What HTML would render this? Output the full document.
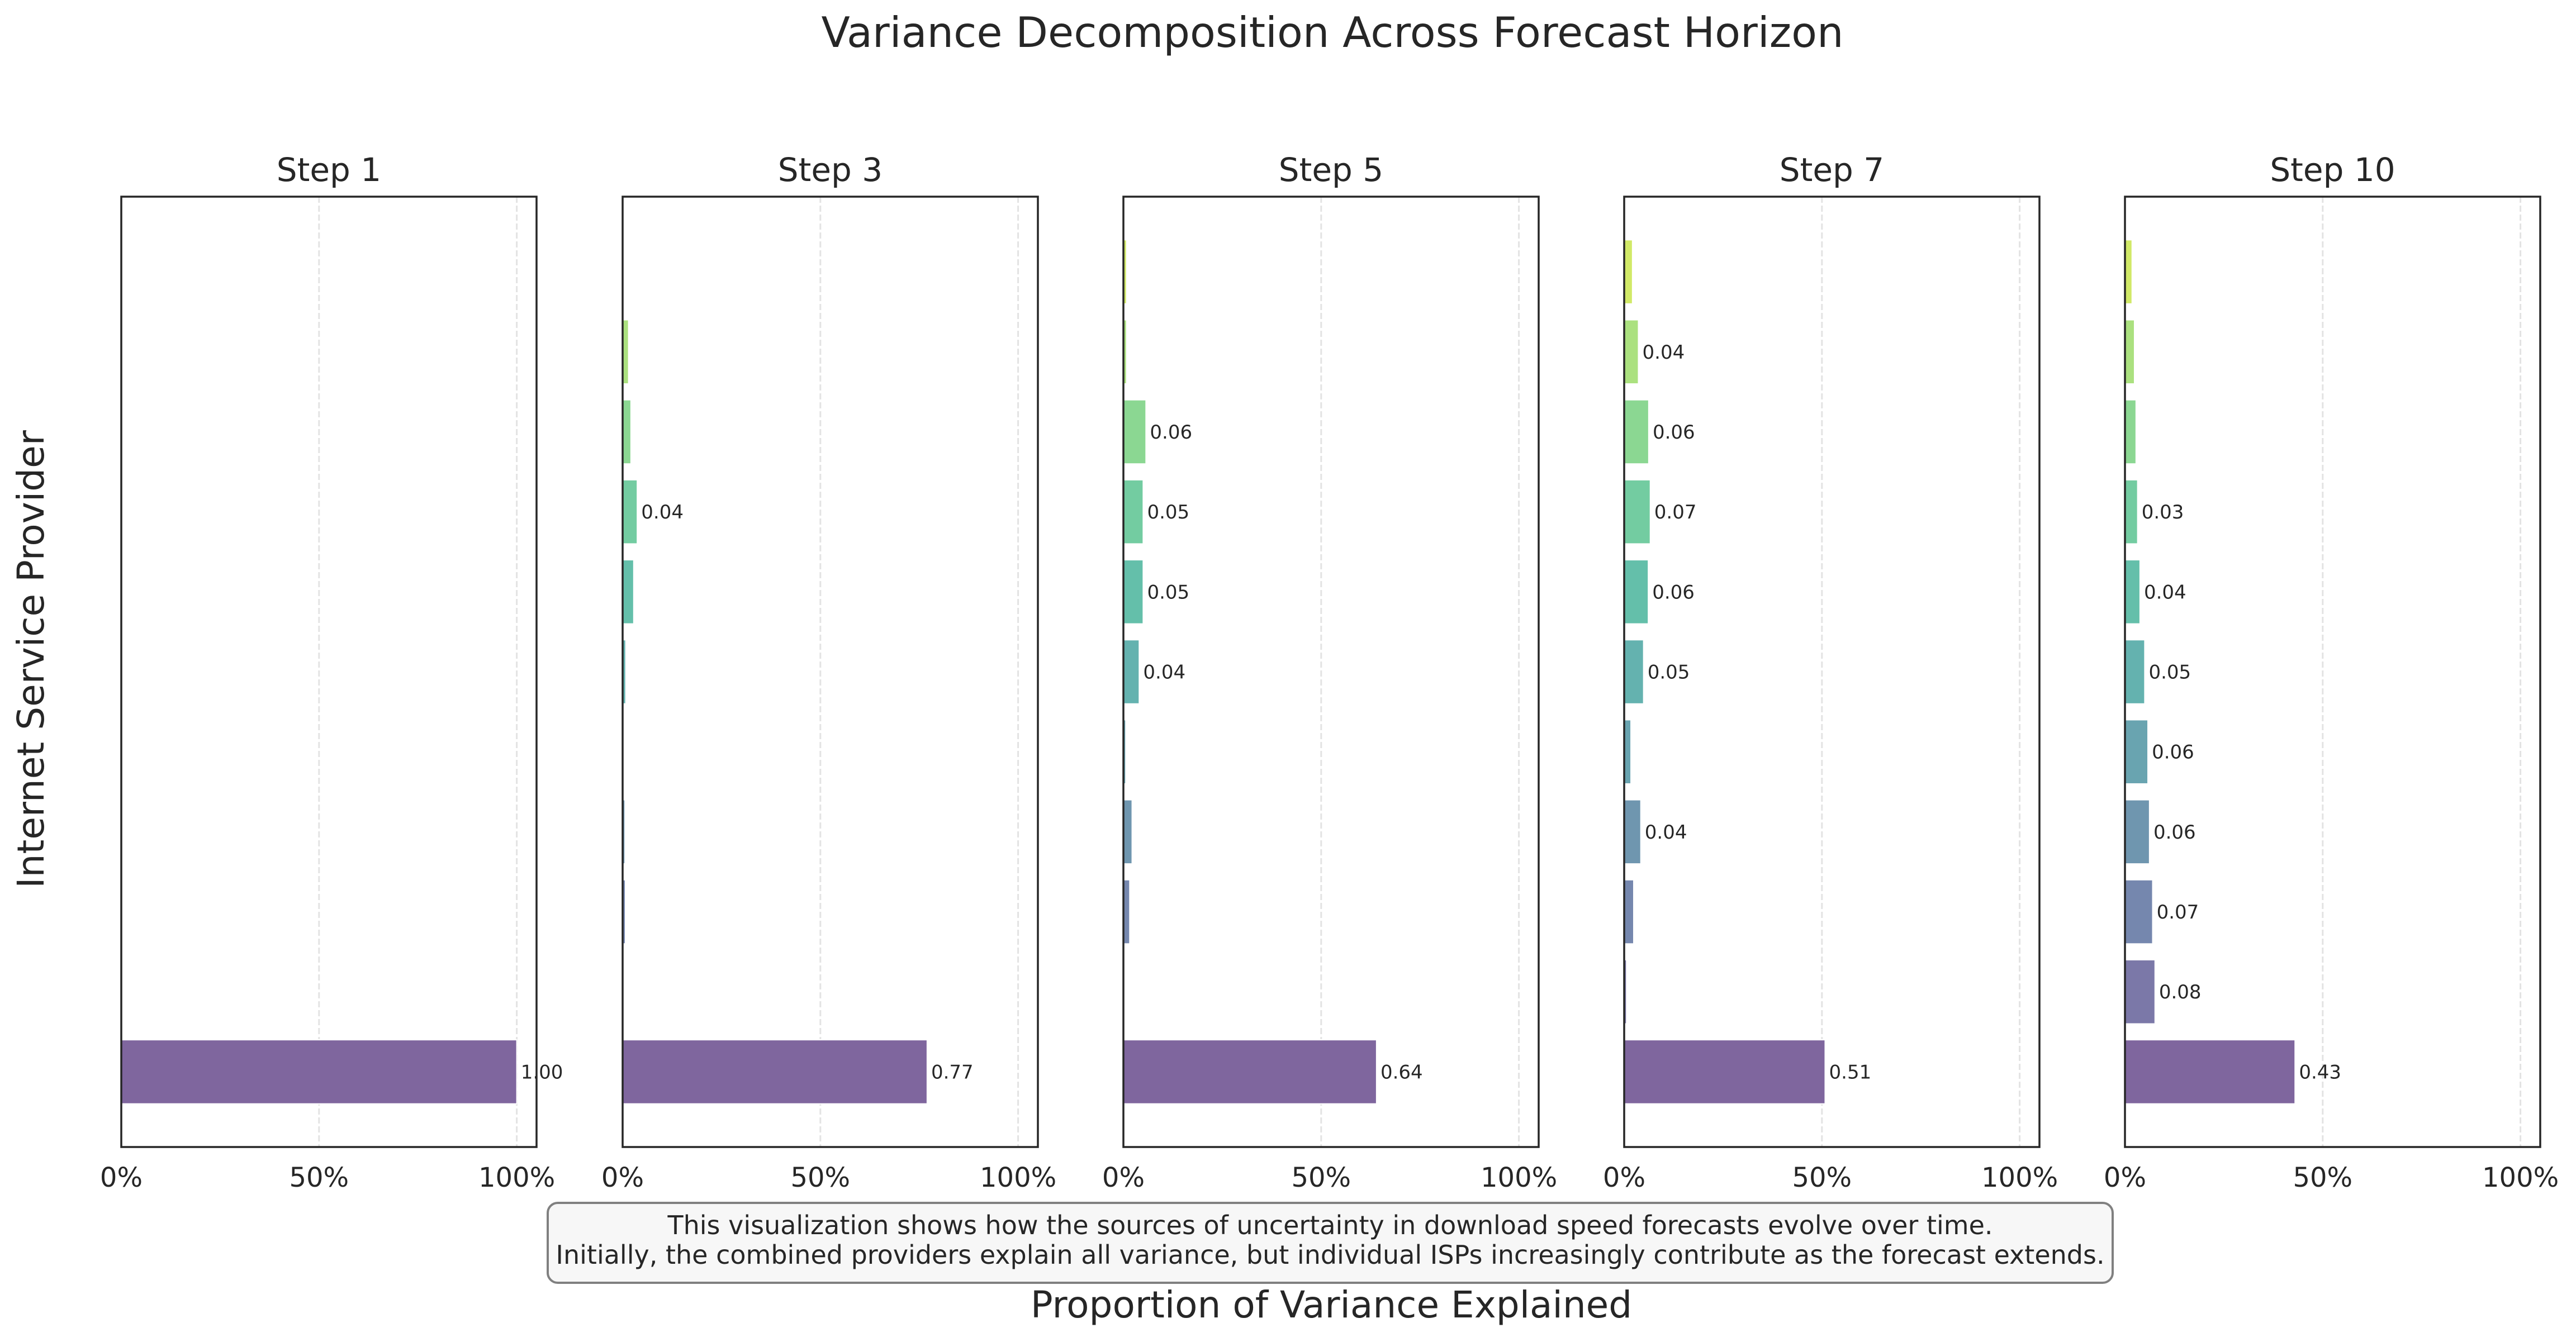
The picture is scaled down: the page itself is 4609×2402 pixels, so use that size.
<!DOCTYPE html>
<html><head><meta charset="utf-8">
<style>
html,body{margin:0;padding:0;background:#fff;}
svg{display:block;font-family:"DejaVu Sans","Liberation Sans",sans-serif;}
</style></head>
<body>
<svg id="chart" width="4609" height="2402" viewBox="0 0 4609 2402" xmlns="http://www.w3.org/2000/svg">
<rect width="4609" height="2402" fill="#fff"/>
<text x="2384" y="84" font-size="75" text-anchor="middle" fill="#262626">Variance Decomposition Across Forecast Horizon</text>
<text transform="translate(78,1180) rotate(-90)" font-size="66" text-anchor="middle" fill="#262626">Internet Service Provider</text>
<g>
<rect x="980" y="2153" width="2800" height="143" rx="18" fill="#f7f7f7" stroke="#808080" stroke-width="4"/>
<text x="2380" y="2209" font-size="46" text-anchor="middle" fill="#262626">This visualization shows how the sources of uncertainty in download speed forecasts evolve over time.</text>
<text x="2380" y="2262" font-size="46" text-anchor="middle" fill="#262626">Initially, the combined providers explain all variance, but individual ISPs increasingly contribute as the forecast extends.</text>
</g>
<text x="2382" y="2358" font-size="66" text-anchor="middle" fill="#262626">Proportion of Variance Explained</text>
<g id="panels"></g>
</svg>
<script>
// Data: index 0 = bottom bar (combined), index 10 = top bar
const steps = ["Step 1","Step 3","Step 5","Step 7","Step 10"];
const step1 = [1.00,0,0,0,0,0,0,0,0,0,0];
const step3 = [0.77,0.002,0.007,0.006,0,0.008,0.028,0.037,0.021,0.015,0];
const step5 = [0.64,0.003,0.016,0.022,0.006,0.04,0.05,0.05,0.057,0.008,0.008];
const step7 = [0.508,0.006,0.024,0.042,0.017,0.049,0.061,0.066,0.062,0.036,0.021];
const step10 = [0.43,0.076,0.07,0.062,0.058,0.05,0.038,0.032,0.028,0.024,0.018];
const xTicks = [0, 0.5, 1.0];
const xTickLabels = ["0%","50%","100%"];

const series = [step1, step3, step5, step7, step10];
const NS = "http://www.w3.org/2000/svg";
const panelLefts = [217, 1114, 2010, 2906, 3802];
const PW = 743, PT = 352, PB = 2053, XMAX = 1.05, YMIN = -0.94, YMAX = 10.94;
const vir = ["#440154","#482475","#414487","#355f8d","#2a788e","#21918c","#22a884","#44bf70","#7ad151","#bddf26","#fde725"];
function hex(c){return [parseInt(c.slice(1,3),16),parseInt(c.slice(3,5),16),parseInt(c.slice(5,7),16)];}
function viridis(t){
  const p=t*10, i=Math.min(9,Math.floor(p)), f=p-i;
  const a=hex(vir[i]), b=hex(vir[i+1]);
  return a.map((v,k)=>Math.round((v+(b[k]-v)*f)*0.7+255*0.3));
}
function yPix(v){return PB-(v-YMIN)/(YMAX-YMIN)*(PB-PT);}
function mk(tag, attrs, parent){
  const e=document.createElementNS(NS,tag);
  for(const k in attrs) e.setAttribute(k,attrs[k]);
  parent.appendChild(e); return e;
}
const root=document.getElementById("panels");
series.forEach((vals, p)=>{
  const L=panelLefts[p];
  const xPix=v=>L+v/XMAX*PW;
  const g=mk("g",{},root);
  
  
  xTicks.forEach((t,i)=>{
    if(t>0){
      const gl=mk("line",{x1:xPix(t),x2:xPix(t),y1:PT,y2:PB,stroke:"#e3e3e3","stroke-width":3,"stroke-dasharray":"11,5"},g);
      
      
    }
    const tl=mk("text",{x:xPix(t),y:2124,"font-size":48,"text-anchor":"middle",fill:"#262626"},g);
    tl.textContent=xTickLabels[i];
    
    
  });
  vals.forEach((v,i)=>{
    const c=viridis(0.1+0.8*i/10);
    const yc=yPix(i);
    const b=mk("rect",{x:xPix(0),y:yc-0.4*(PB-PT)/(YMAX-YMIN),width:Math.max(0,xPix(v)-xPix(0)),height:0.8*(PB-PT)/(YMAX-YMIN),fill:`rgb(${c})`,stroke:"#fff","stroke-width":2},g);
    
    
    if(v>=0.03){
      const lb=mk("text",{x:xPix(v+0.01),y:yc+12,"font-size":34,fill:"#262626"},g);
      lb.textContent=v.toFixed(2);
      
      
    }
  });
  const fr=mk("rect",{x:L,y:PT,width:PW,height:PB-PT,fill:"none",stroke:"#262626","stroke-width":3.5},g);
  
  
  const ti=mk("text",{x:L+PW/2,y:324,"font-size":58,"text-anchor":"middle",fill:"#262626"},g);
  ti.textContent=steps[p];
  
  
});
</script>
</body></html>
